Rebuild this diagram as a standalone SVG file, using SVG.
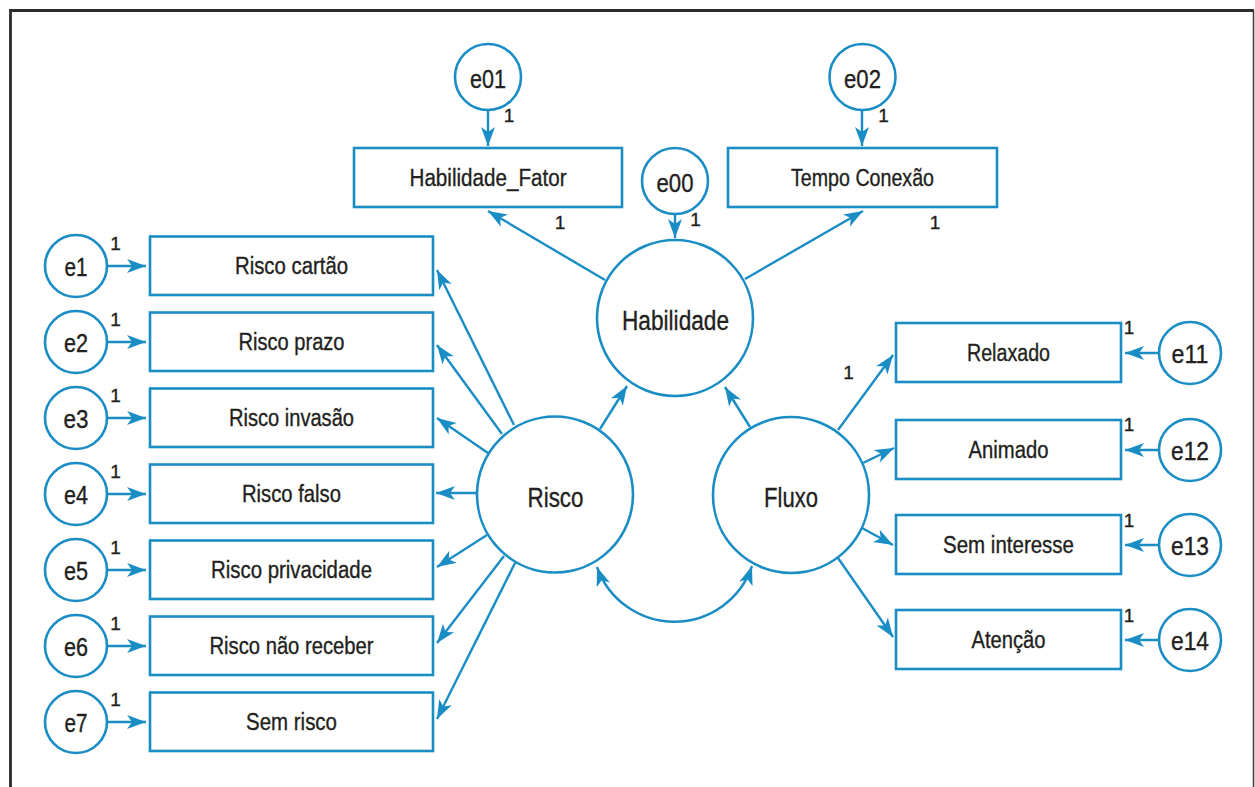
<svg xmlns="http://www.w3.org/2000/svg" width="1255" height="787" viewBox="0 0 1255 787">
<style>
.bx{fill:#fff;stroke:#1a8dc5;stroke-width:2.6}
.ci{fill:#fff;stroke:#1a8dc5;stroke-width:2.6}
.ln{fill:none;stroke:#1a8dc5;stroke-width:2.4;marker-end:url(#ah)}
.bi{fill:none;stroke:#1a8dc5;stroke-width:2.4;marker-start:url(#ah);marker-end:url(#ah)}
text{font-family:"Liberation Sans",Arial,sans-serif;fill:#231f20;stroke:#231f20;stroke-width:0.35;text-anchor:middle}
.bt{font-size:23px}
.lt{font-size:27px}
.et{font-size:25px}
.one{font-size:19px}
</style>
<defs>
<marker id="ah" markerUnits="userSpaceOnUse" viewBox="-21 -10 23 20" refX="0" refY="0" markerWidth="23" markerHeight="20" orient="auto-start-reverse">
<path d="M0,0 L-19,-7 L-14,0 L-19,7 Z" fill="#1a8dc5"/>
</marker>
</defs>
<rect width="1255" height="787" fill="#fff"/>
<g id="frame">
<path d="M10.5,787 V10.5 H1254" fill="none" stroke="#2b2b2b" stroke-width="2.8"/>
<path d="M1253.5,10 V787" fill="none" stroke="#3a3a3a" stroke-width="1.5"/>
</g>
<g id="connectors">
<line class="ln" x1="488" y1="110" x2="488" y2="146"/>
<line class="ln" x1="862" y1="110" x2="862" y2="146"/>
<line class="ln" x1="675" y1="214" x2="675" y2="238"/>
<line class="ln" x1="605" y1="280" x2="488" y2="211"/>
<line class="ln" x1="745" y1="279" x2="863" y2="211"/>
<line class="ln" x1="600" y1="429" x2="627" y2="386"/>
<line class="ln" x1="750" y1="427" x2="725" y2="387"/>
<line class="ln" x1="514" y1="425" x2="437" y2="270"/>
<line class="ln" x1="502" y1="434" x2="437" y2="345"/>
<line class="ln" x1="488" y1="453" x2="437" y2="418"/>
<line class="ln" x1="477" y1="493" x2="436" y2="493"/>
<line class="ln" x1="487" y1="535" x2="437" y2="567"/>
<line class="ln" x1="504" y1="556" x2="437" y2="643"/>
<line class="ln" x1="515" y1="563" x2="437" y2="719"/>
<line class="ln" x1="838" y1="430" x2="893" y2="355"/>
<line class="ln" x1="863" y1="463" x2="894" y2="448"/>
<line class="ln" x1="862" y1="528" x2="893" y2="545"/>
<line class="ln" x1="838" y1="558" x2="893" y2="637"/>
<line class="ln" x1="107" y1="266" x2="146" y2="266"/>
<line class="ln" x1="107" y1="342" x2="146" y2="342"/>
<line class="ln" x1="107" y1="418" x2="146" y2="418"/>
<line class="ln" x1="107" y1="494" x2="146" y2="494"/>
<line class="ln" x1="107" y1="570" x2="146" y2="570"/>
<line class="ln" x1="107" y1="646" x2="146" y2="646"/>
<line class="ln" x1="107" y1="722" x2="146" y2="722"/>
<line class="ln" x1="1159" y1="353" x2="1125" y2="353"/>
<line class="ln" x1="1159" y1="450" x2="1125" y2="450"/>
<line class="ln" x1="1159" y1="545" x2="1125" y2="545"/>
<line class="ln" x1="1159" y1="640" x2="1125" y2="640"/>
<path class="bi" d="M597,567 A82,82 0 0 0 752,566"/>
</g>
<g id="labels1">
<text class="one" x="509" y="122">1</text>
<text class="one" x="883.5" y="122">1</text>
<text class="one" x="695.5" y="226">1</text>
<text class="one" x="560" y="229">1</text>
<text class="one" x="935" y="229">1</text>
<text class="one" x="848.5" y="379">1</text>
<text class="one" x="115.5" y="250">1</text>
<text class="one" x="115.5" y="326">1</text>
<text class="one" x="115.5" y="402">1</text>
<text class="one" x="115.5" y="478">1</text>
<text class="one" x="115.5" y="554">1</text>
<text class="one" x="115.5" y="630">1</text>
<text class="one" x="115.5" y="706">1</text>
<text class="one" x="1129" y="334">1</text>
<text class="one" x="1129" y="431">1</text>
<text class="one" x="1129" y="527">1</text>
<text class="one" x="1129" y="622">1</text>
</g>
<g id="e01"><circle class="ci" cx="488" cy="77" r="33"/><text class="et" x="488" y="87.5" textLength="36" lengthAdjust="spacingAndGlyphs">e01</text></g>
<g id="e02"><circle class="ci" cx="862.5" cy="77" r="33"/><text class="et" x="862.5" y="87.5" textLength="37" lengthAdjust="spacingAndGlyphs">e02</text></g>
<g id="e00"><circle class="ci" cx="675" cy="181" r="33"/><text class="et" x="675" y="191.5" textLength="37" lengthAdjust="spacingAndGlyphs">e00</text></g>
<g id="habilidade_fator"><rect class="bx" x="354" y="148" width="268" height="59"/><text class="bt" x="488" y="186" textLength="157" lengthAdjust="spacingAndGlyphs">Habilidade_Fator</text></g>
<g id="tempo_conexao"><rect class="bx" x="728" y="148" width="269" height="59"/><text class="bt" x="862.5" y="186" textLength="143" lengthAdjust="spacingAndGlyphs">Tempo Conexão</text></g>
<g id="habilidade"><circle class="ci" cx="675" cy="318" r="78"/><text class="lt" x="675.5" y="330" textLength="107" lengthAdjust="spacingAndGlyphs">Habilidade</text></g>
<g id="risco"><circle class="ci" cx="555" cy="494.5" r="78"/><text class="lt" x="555.5" y="507" textLength="56" lengthAdjust="spacingAndGlyphs">Risco</text></g>
<g id="fluxo"><circle class="ci" cx="791" cy="495" r="78"/><text class="lt" x="791" y="507" textLength="54" lengthAdjust="spacingAndGlyphs">Fluxo</text></g>
<g id="risco_cartao"><rect class="bx" x="150" y="236.5" width="283" height="58.5"/><text class="bt" x="291.5" y="274" textLength="113" lengthAdjust="spacingAndGlyphs">Risco cartão</text></g>
<g id="risco_prazo"><rect class="bx" x="150" y="312.5" width="283" height="58.5"/><text class="bt" x="291.5" y="350" textLength="106" lengthAdjust="spacingAndGlyphs">Risco prazo</text></g>
<g id="risco_invasao"><rect class="bx" x="150" y="388.5" width="283" height="58.5"/><text class="bt" x="291.5" y="426" textLength="125" lengthAdjust="spacingAndGlyphs">Risco invasão</text></g>
<g id="risco_falso"><rect class="bx" x="150" y="464.5" width="283" height="58.5"/><text class="bt" x="291.5" y="502" textLength="99" lengthAdjust="spacingAndGlyphs">Risco falso</text></g>
<g id="risco_privacidade"><rect class="bx" x="150" y="540.5" width="283" height="58.5"/><text class="bt" x="291.5" y="578" textLength="161" lengthAdjust="spacingAndGlyphs">Risco privacidade</text></g>
<g id="risco_nao_receber"><rect class="bx" x="150" y="616.5" width="283" height="58.5"/><text class="bt" x="291.5" y="654" textLength="164" lengthAdjust="spacingAndGlyphs">Risco não receber</text></g>
<g id="sem_risco"><rect class="bx" x="150" y="692.5" width="283" height="58.5"/><text class="bt" x="291.5" y="730" textLength="91" lengthAdjust="spacingAndGlyphs">Sem risco</text></g>
<g id="e1"><circle class="ci" cx="76" cy="266" r="31"/><text class="et" x="76" y="275.5" textLength="23" lengthAdjust="spacingAndGlyphs">e1</text></g>
<g id="e2"><circle class="ci" cx="76" cy="342" r="31"/><text class="et" x="76" y="351.5" textLength="24" lengthAdjust="spacingAndGlyphs">e2</text></g>
<g id="e3"><circle class="ci" cx="76" cy="418" r="31"/><text class="et" x="76" y="427.5" textLength="25" lengthAdjust="spacingAndGlyphs">e3</text></g>
<g id="e4"><circle class="ci" cx="76" cy="494" r="31"/><text class="et" x="76" y="503.5" textLength="24" lengthAdjust="spacingAndGlyphs">e4</text></g>
<g id="e5"><circle class="ci" cx="76" cy="570" r="31"/><text class="et" x="76" y="579.5" textLength="24" lengthAdjust="spacingAndGlyphs">e5</text></g>
<g id="e6"><circle class="ci" cx="76" cy="646" r="31"/><text class="et" x="76" y="655.5" textLength="24" lengthAdjust="spacingAndGlyphs">e6</text></g>
<g id="e7"><circle class="ci" cx="76" cy="722" r="31"/><text class="et" x="76" y="731.5" textLength="23" lengthAdjust="spacingAndGlyphs">e7</text></g>
<g id="relaxado"><rect class="bx" x="896" y="323" width="225" height="59"/><text class="bt" x="1008.5" y="361" textLength="83" lengthAdjust="spacingAndGlyphs">Relaxado</text></g>
<g id="animado"><rect class="bx" x="896" y="420" width="225" height="59"/><text class="bt" x="1008.5" y="458" textLength="80" lengthAdjust="spacingAndGlyphs">Animado</text></g>
<g id="sem_interesse"><rect class="bx" x="896" y="515" width="225" height="59"/><text class="bt" x="1008.5" y="553" textLength="131" lengthAdjust="spacingAndGlyphs">Sem interesse</text></g>
<g id="atencao"><rect class="bx" x="896" y="610" width="225" height="59"/><text class="bt" x="1008.5" y="648" textLength="74" lengthAdjust="spacingAndGlyphs">Atenção</text></g>
<g id="e11"><circle class="ci" cx="1190" cy="353" r="31"/><text class="et" x="1190" y="362.5" textLength="37" lengthAdjust="spacingAndGlyphs">e11</text></g>
<g id="e12"><circle class="ci" cx="1190" cy="450" r="31"/><text class="et" x="1190" y="459.5" textLength="38" lengthAdjust="spacingAndGlyphs">e12</text></g>
<g id="e13"><circle class="ci" cx="1190" cy="545" r="31"/><text class="et" x="1190" y="554.5" textLength="38" lengthAdjust="spacingAndGlyphs">e13</text></g>
<g id="e14"><circle class="ci" cx="1190" cy="640" r="31"/><text class="et" x="1190" y="649.5" textLength="38" lengthAdjust="spacingAndGlyphs">e14</text></g>
</svg>
